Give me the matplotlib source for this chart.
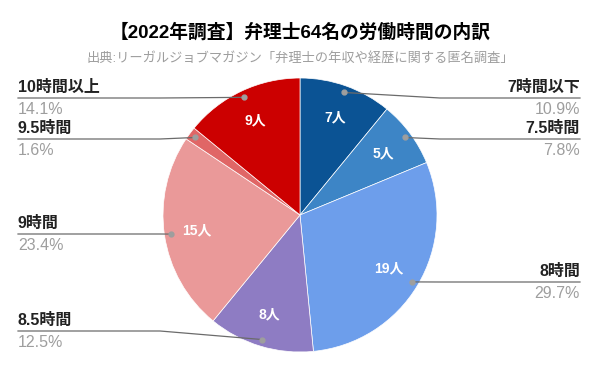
import matplotlib
matplotlib.use("Agg")
import matplotlib.pyplot as plt
import numpy as np

plt.rcParams['font.family'] = ['Liberation Sans', 'Noto Sans CJK JP', 'DejaVu Sans']

categories = ["7時間以下", "7.5時間", "8時間", "8.5時間", "9時間", "9.5時間", "10時間以上"]
counts = [7, 5, 19, 8, 15, 1, 9]
percents = ["10.9%", "7.8%", "29.7%", "12.5%", "23.4%", "1.6%", "14.1%"]
colors = ["#0b5394", "#3d85c6", "#6d9eeb", "#8e7cc3", "#ea9999", "#e06666", "#cc0000"]

# layout (pixels, from top)
W, H = 600, 371
cx, cy, R = 300, 215, 137
line_y = [98, 139, 282, 331, 234, 139, 98]


def Y(y):
    return H - y


fig = plt.figure(figsize=(6, 3.71), dpi=100)
ax = fig.add_axes([0, 0, 1, 1])
ax.pie(counts, colors=colors, startangle=90, counterclock=False,
       center=(cx, Y(cy)), radius=R,
       wedgeprops=dict(edgecolor="white", linewidth=0.5))
ax.set_xlim(0, W)
ax.set_ylim(0, H)
ax.set_aspect("equal")
ax.axis("off")

total = sum(counts)
start = 90.0
for i, n in enumerate(counts):
    sweep = n / total * 360
    mid = np.deg2rad(start - sweep / 2)
    start -= sweep
    # count inside slice
    if n > 1:
        ax.text(cx + 0.76 * R * np.cos(mid), Y(cy) + 0.76 * R * np.sin(mid),
                f"{n}人", color="white", fontsize=10, fontweight="bold",
                ha="center", va="center")
    # leader line
    dx = cx + 0.95 * R * np.cos(mid)
    dy = Y(cy) + 0.95 * R * np.sin(mid)
    ly = Y(line_y[i])
    if np.cos(mid) >= 0:
        xs = [dx, 440, 580]
        tx, ha = 580, "right"
    else:
        xs = [dx, 160, 18]
        tx, ha = 18, "left"
    ax.plot(xs, [dy, ly, ly], color="#6b6b6b", lw=0.9)
    ax.plot(dx, dy, "o", color="#9e9e9e", ms=3.5)
    ax.text(tx, ly + 11, categories[i], ha=ha, va="center", fontsize=11.5,
            fontweight="bold", color="#222222")
    ax.text(tx, ly - 11.5, percents[i], ha=ha, va="center", fontsize=11.5,
            color="#9e9e9e")

fig.text(0.5, 1 - 32 / H, "【2022年調査】弁理士64名の労働時間の内訳",
         ha="center", va="center", fontsize=13.5, fontweight="bold", color="#000000")
fig.text(0.5, 1 - 58 / H, "出典:リーガルジョブマガジン「弁理士の年収や経歴に関する匿名調査」",
         ha="center", va="center", fontsize=9.5, color="#9e9e9e")

fig.savefig("out.png", dpi=100)
